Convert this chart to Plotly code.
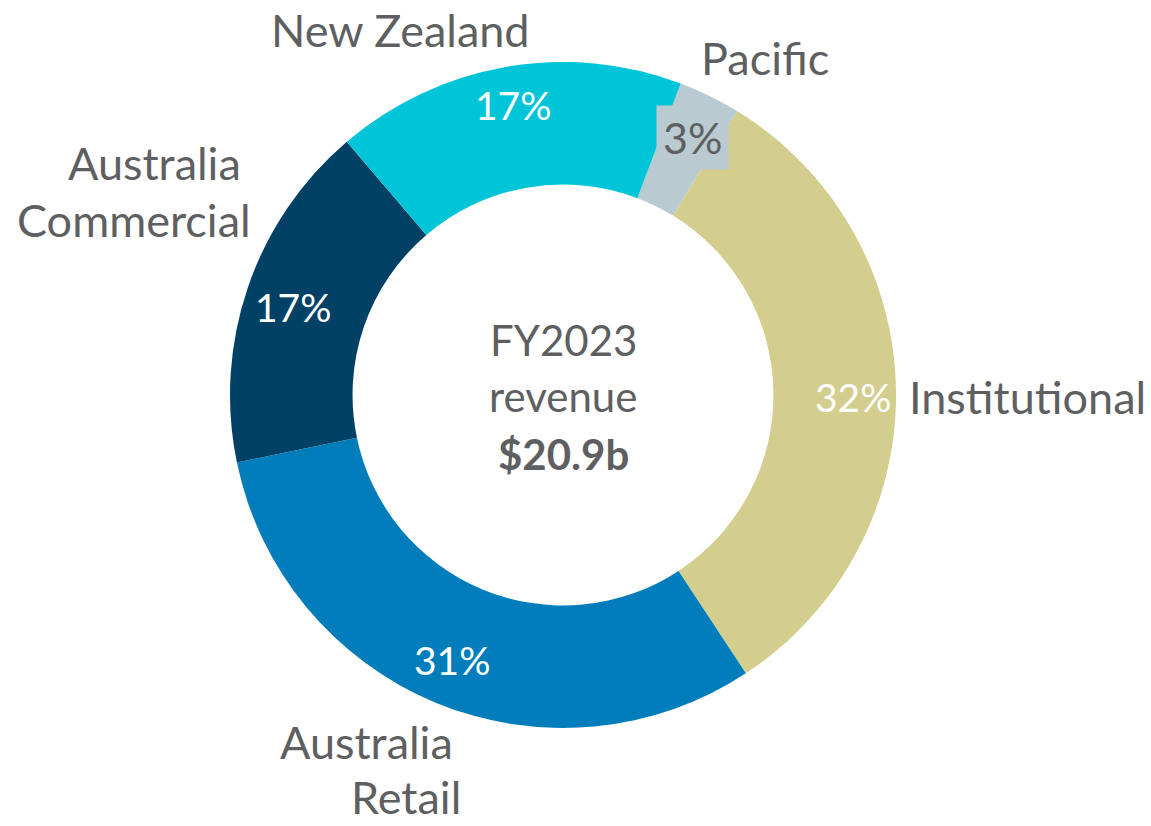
import plotly.graph_objects as go

categories = ["Pacific", "Institutional", "Australia Retail", "Australia Commercial", "New Zealand"]
shares = [3, 32, 31, 17, 17]
colors = ["#B9CAD0", "#D3CE8E", "#007DBA", "#004165", "#00C4D8"]
center_lines = ["FY2023", "revenue", "$20.9b"]

W, H = 1151, 826
GREY = "#5E5F61"
FONT = "Lato"


def px(x, y):
    return x / W, 1 - y / H


cx, cy, R = 563, 395, 333
fig = go.Figure(go.Pie(
    labels=categories, values=shares, sort=False, direction="clockwise",
    rotation=20.7, hole=0.632, textinfo="none", hoverinfo="label+percent",
    marker=dict(colors=colors, line=dict(width=0)),
    domain=dict(x=[(cx - R) / W, (cx + R) / W], y=[1 - (cy + R) / H, 1 - (cy - R) / H]),
    showlegend=False,
))

ann = []


def add(text, x, y, size, color=GREY, xanchor="center", bg=None, bold=False, pad=1):
    xx, yy = px(x, y)
    t = f"<b>{text}</b>" if bold else text
    d = dict(text=t, x=xx, y=yy, xref="paper", yref="paper", showarrow=False,
             xanchor=xanchor, yanchor="middle", font=dict(family=FONT, size=size, color=color))
    if bg:
        d.update(bgcolor=bg, borderpad=pad)
    ann.append(d)


LS = 45
# category labels
add("New Zealand", 400, 30, LS)
add("Pacific", 765, 58, LS)
add("Australia", 243, 163, LS, xanchor="right")
add("Commercial", 253, 220, LS, xanchor="right")
add("Institutional", 907, 397, LS, xanchor="left")
add("Australia", 366, 742, LS)
add("Retail", 406, 797, LS)

# percentages
PS = 39
pct = {c: f"{v}%" for c, v in zip(categories, shares)}
add(pct["New Zealand"], 513, 105, PS, color="white")
add(pct["Australia Commercial"], 293, 307, PS, color="white")
add(pct["Australia Retail"], 452, 660, PS, color="white")
add(pct["Institutional"], 853, 397, PS, color="white")
add(pct["Pacific"], 692, 137, 43, color=GREY, bg=colors[0], pad=6)

# center
CS = 42
add(center_lines[0], 563, 340, CS)
add(center_lines[1], 563, 396, CS)
add(center_lines[2], 563, 454, CS, bold=True)

fig.update_layout(
    width=W, height=H, margin=dict(l=0, r=0, t=0, b=0),
    paper_bgcolor="white", plot_bgcolor="white",
    annotations=ann, font=dict(family=FONT, color=GREY),
)
fig.write_html("out.html", config={"displayModeBar": False},
               post_script="document.body.style.margin='0';")
